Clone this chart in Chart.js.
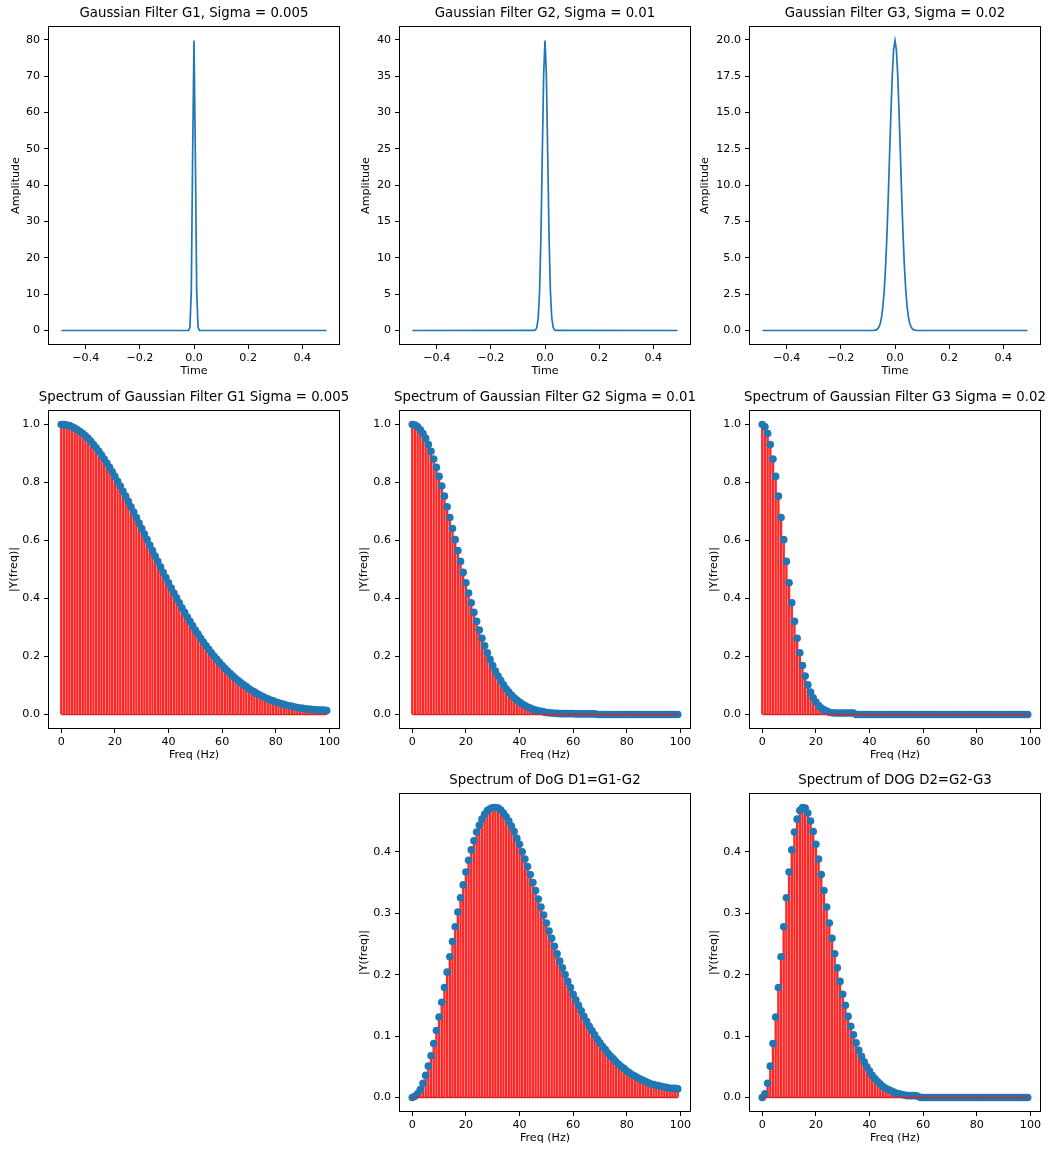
<!DOCTYPE html>
<html>
<head>
<meta charset="utf-8">
<script src="https://cdn.jsdelivr.net/npm/chart.js@4/dist/chart.umd.min.js"></script>
<style>
html,body{margin:0;padding:0;background:#fff;}
#wrap{position:relative;width:1054px;height:1153px;overflow:hidden;background:#fff;}
canvas{position:absolute;}
</style>
</head>
<body>
<div id="wrap"></div>
<script>
// ---------- DATA ----------
const timeTicks = [-0.4, -0.2, 0.0, 0.2, 0.4];
const g1YTicks = [0, 10, 20, 30, 40, 50, 60, 70, 80];
const g2YTicks = [0, 5, 10, 15, 20, 25, 30, 35, 40];
const g3YTicks = [0, 2.5, 5, 7.5, 10, 12.5, 15, 17.5, 20];
const freqTicks = [0, 20, 40, 60, 80, 100];
const specYTicks = [0, 0.2, 0.4, 0.6, 0.8, 1.0];
const dogYTicks = [0, 0.1, 0.2, 0.3, 0.4];

const g1Time = [-0.49, -0.02, -0.015, -0.01, -0.005, 0, 0.005, 0.01, 0.015, 0.02, 0.49];
const g1Amp  = [0, 0.03, 0.89, 10.8, 48.4, 79.8, 48.4, 10.8, 0.89, 0.03, 0];

const g2Time = [-0.49, -0.04, -0.035, -0.03, -0.025, -0.02, -0.015, -0.01, -0.005, 0,
                0.005, 0.01, 0.015, 0.02, 0.025, 0.03, 0.035, 0.04, 0.49];
const g2Amp  = [0, 0.01, 0.09, 0.44, 1.75, 5.40, 12.95, 24.2, 35.2, 39.9,
                35.2, 24.2, 12.95, 5.40, 1.75, 0.44, 0.09, 0.01, 0];

const g3Time = [-0.49, -0.08, -0.075, -0.07, -0.065, -0.06, -0.055, -0.05, -0.045, -0.04,
                -0.035, -0.03, -0.025, -0.02, -0.015, -0.01, -0.005, 0,
                0.005, 0.01, 0.015, 0.02, 0.025, 0.03, 0.035, 0.04, 0.045,
                0.05, 0.055, 0.06, 0.065, 0.07, 0.075, 0.08, 0.49];
const g3Amp  = [0, 0.007, 0.018, 0.044, 0.10, 0.22, 0.45, 0.88, 1.59, 2.70,
                4.31, 6.47, 9.14, 12.10, 15.02, 17.60, 19.35, 19.95,
                19.35, 17.60, 15.02, 12.10, 9.14, 6.47, 4.31, 2.70, 1.59,
                0.88, 0.45, 0.22, 0.10, 0.044, 0.018, 0.007, 0];

const freqs = [0,1,2,3,4,5,6,7,8,9,10,11,12,13,14,15,16,17,18,19,20,21,22,23,24,25,26,27,28,29,
30,31,32,33,34,35,36,37,38,39,40,41,42,43,44,45,46,47,48,49,50,51,52,53,54,55,56,57,58,59,
60,61,62,63,64,65,66,67,68,69,70,71,72,73,74,75,76,77,78,79,80,81,82,83,84,85,86,87,88,89,
90,91,92,93,94,95,96,97,98,99];

const specG1 = [1.000,0.9995,0.998,0.996,0.992,0.988,0.982,0.976,0.969,0.961,
0.952,0.942,0.931,0.920,0.908,0.895,0.881,0.867,0.852,0.837,
0.821,0.804,0.788,0.770,0.753,0.735,0.716,0.698,0.679,0.660,
0.641,0.622,0.603,0.584,0.565,0.546,0.528,0.509,0.490,0.472,
0.454,0.436,0.419,0.402,0.385,0.368,0.352,0.336,0.321,0.306,
0.291,0.277,0.263,0.250,0.237,0.225,0.213,0.201,0.190,0.180,
0.169,0.159,0.150,0.141,0.133,0.124,0.117,0.109,0.102,0.096,
0.089,0.083,0.078,0.072,0.067,0.063,0.058,0.054,0.050,0.047,
0.043,0.040,0.037,0.035,0.032,0.030,0.028,0.026,0.024,0.022,
0.021,0.020,0.019,0.018,0.017,0.016,0.015,0.015,0.015,0.014];

const specG2 = [1.000,0.998,0.992,0.982,0.969,0.952,0.931,0.908,0.881,0.852,
0.821,0.788,0.753,0.716,0.679,0.641,0.603,0.565,0.528,0.490,
0.454,0.419,0.385,0.352,0.321,0.291,0.263,0.237,0.213,0.190,
0.169,0.150,0.133,0.117,0.102,0.089,0.077,0.067,0.058,0.050,
0.043,0.036,0.031,0.026,0.022,0.018,0.015,0.013,0.011,0.009,
0.007,0.006,0.005,0.004,0.004,0.003,0.003,0.003,0.003,0.003,
0.003,0.002,0.002,0.002,0.002,0.002,0.002,0.002,0.002,0.000,
0,0,0,0,0,0,0,0,0,0,
0,0,0,0,0,0,0,0,0,0,
0,0,0,0,0,0,0,0,0,0];

const specG3 = [1.000,0.992,0.969,0.931,0.881,0.821,0.753,0.679,0.603,0.528,
0.454,0.385,0.321,0.263,0.213,0.169,0.133,0.102,0.077,0.058,
0.043,0.031,0.022,0.016,0.012,0.008,0.006,0.005,0.005,0.005,
0.005,0.005,0.005,0.005,0.005,0.000,0,0,0,0,
0,0,0,0,0,0,0,0,0,0,
0,0,0,0,0,0,0,0,0,0,
0,0,0,0,0,0,0,0,0,0,
0,0,0,0,0,0,0,0,0,0,
0,0,0,0,0,0,0,0,0,0,
0,0,0,0,0,0,0,0,0,0];

const specD1 = [0.000,0.002,0.006,0.013,0.023,0.036,0.051,0.068,0.088,0.109,
0.131,0.155,0.179,0.204,0.229,0.254,0.278,0.302,0.325,0.346,
0.367,0.386,0.403,0.418,0.432,0.443,0.453,0.461,0.467,0.470,
0.472,0.472,0.471,0.468,0.463,0.457,0.450,0.442,0.433,0.422,
0.412,0.400,0.388,0.376,0.363,0.350,0.337,0.323,0.310,0.297,
0.284,0.271,0.259,0.246,0.234,0.222,0.211,0.200,0.189,0.179,
0.168,0.159,0.150,0.141,0.132,0.124,0.116,0.109,0.102,0.095,
0.089,0.083,0.078,0.072,0.067,0.063,0.058,0.054,0.050,0.047,
0.043,0.040,0.037,0.035,0.032,0.030,0.028,0.026,0.024,0.022,
0.021,0.020,0.019,0.018,0.017,0.016,0.015,0.015,0.015,0.014];

const specD2 = [0.000,0.006,0.023,0.051,0.088,0.131,0.179,0.229,0.278,0.325,
0.367,0.403,0.432,0.453,0.467,0.472,0.471,0.463,0.450,0.433,
0.412,0.388,0.363,0.337,0.310,0.284,0.259,0.234,0.211,0.189,
0.168,0.150,0.132,0.116,0.102,0.089,0.077,0.067,0.058,0.050,
0.043,0.036,0.031,0.026,0.022,0.018,0.015,0.013,0.011,0.009,
0.007,0.006,0.005,0.004,0.003,0.003,0.003,0.003,0.002,0.000,
0,0,0,0,0,0,0,0,0,0,
0,0,0,0,0,0,0,0,0,0,
0,0,0,0,0,0,0,0,0,0,
0,0,0,0,0,0,0,0,0,0];

// ---------- LAYOUT / STYLE ----------
const FONT = 'DejaVu Sans';
const FRAME_W = 292, FRAME_H = 319, TITLE_BLOCK = 22, XAXIS_H = 36;
const BLUE = '#1f77b4', STEM = 'rgb(255,38,38)', BASE = '#d62728';

const framePlugin = {
  id: 'frame',
  afterDraw(chart) {
    const a = chart.chartArea, ctx = chart.ctx;
    ctx.save();
    ctx.strokeStyle = '#000';
    ctx.lineWidth = 1;
    ctx.strokeRect(Math.round(a.left) + 0.5, Math.round(a.top) + 0.5,
                   Math.round(a.right - a.left) - 1, Math.round(a.bottom - a.top) - 1);
    ctx.restore();
  }
};

function fmt(dec) {
  return v => Number(v).toFixed(dec).replace('-', '\u2212');
}

function zip(xs, ys) { return xs.map((x, i) => ({x: x, y: ys[i]})); }

function axis(o) {
  return {
    type: 'linear', min: o.min, max: o.max, offset: false,
    afterBuildTicks: s => { s.ticks = o.ticks.map(v => ({value: v})); },
    afterFit: o.fit,
    ticks: {callback: fmt(o.dec), font: {family: FONT, size: 11.1, lineHeight: '13.3px'}, color: '#000',
            padding: o.tickPad, maxRotation: 0, autoSkip: false},
    grid: {display: true, drawOnChartArea: false, drawTicks: true, tickLength: 4, offset: false,
           color: '#000', tickColor: '#000', lineWidth: 1},
    border: {display: false},
    title: {display: true, text: o.title, color: '#000',
            font: {family: FONT, size: 11.1, lineHeight: '13.3px'}, padding: o.titlePad}
  };
}

function makeChart(p) {
  const yw = p.yw;
  const cv = document.createElement('canvas');
  const w = 2 * yw + FRAME_W, h = TITLE_BLOCK + FRAME_H + XAXIS_H;
  cv.width = w; cv.height = h;
  cv.style.width = w + 'px'; cv.style.height = h + 'px';
  cv.style.left = (p.L - yw) + 'px';
  cv.style.top = (p.T - TITLE_BLOCK) + 'px';
  document.getElementById('wrap').appendChild(cv);
  new Chart(cv.getContext('2d'), {
    type: p.type,
    data: {datasets: p.datasets},
    options: {
      responsive: false, animation: false, devicePixelRatio: 1,
      layout: {padding: 0},
      plugins: {
        legend: {display: false}, tooltip: {enabled: false},
        title: {display: true, text: p.title, color: '#000',
                font: {family: FONT, size: 13.3, weight: 'normal', lineHeight: '16px'},
                padding: {top: 2, bottom: 4}}
      },
      scales: {
        x: axis({min: p.xMin, max: p.xMax, ticks: p.xTicks, dec: p.xDec, title: p.xTitle, tickPad: 2,
                 fit: s => { s.height = XAXIS_H; }, titlePad: {top: 0, bottom: 2.85}}),
        y: axis({min: p.yMin, max: p.yMax, ticks: p.yTicks, dec: p.yDec, title: p.yTitle, tickPad: 4,
                 fit: s => { s.width = yw; }, titlePad: {top: 1.35, bottom: 0}}),
        spacer: {type: 'linear', position: 'right', display: true,
                 afterFit: s => { s.width = yw; },
                 ticks: {display: false}, grid: {display: false},
                 border: {display: false}, title: {display: false}}
      }
    },
    plugins: [framePlugin]
  });
}

function timeChart(L, T, yw, title, tx, ty, yTicks, yDec, yMin, yMax) {
  makeChart({
    L, T, yw, title, type: 'line',
    xMin: -0.5395, xMax: 0.5395, xTicks: timeTicks, xDec: 1, xTitle: 'Time',
    yMin, yMax, yTicks, yDec, yTitle: 'Amplitude',
    datasets: [{data: zip(tx, ty), borderColor: BLUE, borderWidth: 1.7,
                pointRadius: 0, tension: 0, fill: false}]
  });
}

function specChart(L, T, yw, title, vals, yTicks, yMin, yMax) {
  makeChart({
    L, T, yw, title, type: 'bar',
    xMin: -4.95, xMax: 103.95, xTicks: freqTicks, xDec: 0, xTitle: 'Freq (Hz)',
    yMin, yMax, yTicks, yDec: 1, yTitle: '|Y(freq)|',
    datasets: [
      {type: 'line', order: 0, data: [{x: freqs[0], y: 0}, {x: freqs[freqs.length - 1], y: 0}],
       borderColor: BASE, borderWidth: 1.7, pointRadius: 0, fill: false},
      {type: 'line', order: 1, data: zip(freqs, vals), showLine: false,
       pointRadius: 3.8, pointBorderWidth: 0, pointBackgroundColor: BLUE, pointBorderColor: BLUE},
      {type: 'bar', order: 2, data: zip(freqs, vals), backgroundColor: STEM,
       barThickness: 1.7, borderWidth: 0}
    ]
  });
}

timeChart(48, 26, 40, 'Gaussian Filter G1, Sigma = 0.005', g1Time, g1Amp, g1YTicks, 0, -3.99, 83.78);
timeChart(399, 26, 41, 'Gaussian Filter G2, Sigma = 0.01', g2Time, g2Amp, g2YTicks, 0, -1.995, 41.89);
timeChart(749, 26, 52, 'Gaussian Filter G3, Sigma = 0.02', g3Time, g3Amp, g3YTicks, 1, -0.9975, 20.95);

specChart(48, 410, 42, 'Spectrum of Gaussian Filter G1 Sigma = 0.005', specG1, specYTicks, -0.05, 1.05);
specChart(399, 410, 43, 'Spectrum of Gaussian Filter G2 Sigma = 0.01', specG2, specYTicks, -0.05, 1.05);
specChart(749, 410, 43, 'Spectrum of Gaussian Filter G3 Sigma = 0.02', specG3, specYTicks, -0.05, 1.05);

specChart(399, 793, 43, 'Spectrum of DoG D1=G1-G2', specD1, dogYTicks, -0.0236, 0.4956);
specChart(749, 793, 43, 'Spectrum of DOG D2=G2-G3', specD2, dogYTicks, -0.0236, 0.4956);
</script>
</body>
</html>
